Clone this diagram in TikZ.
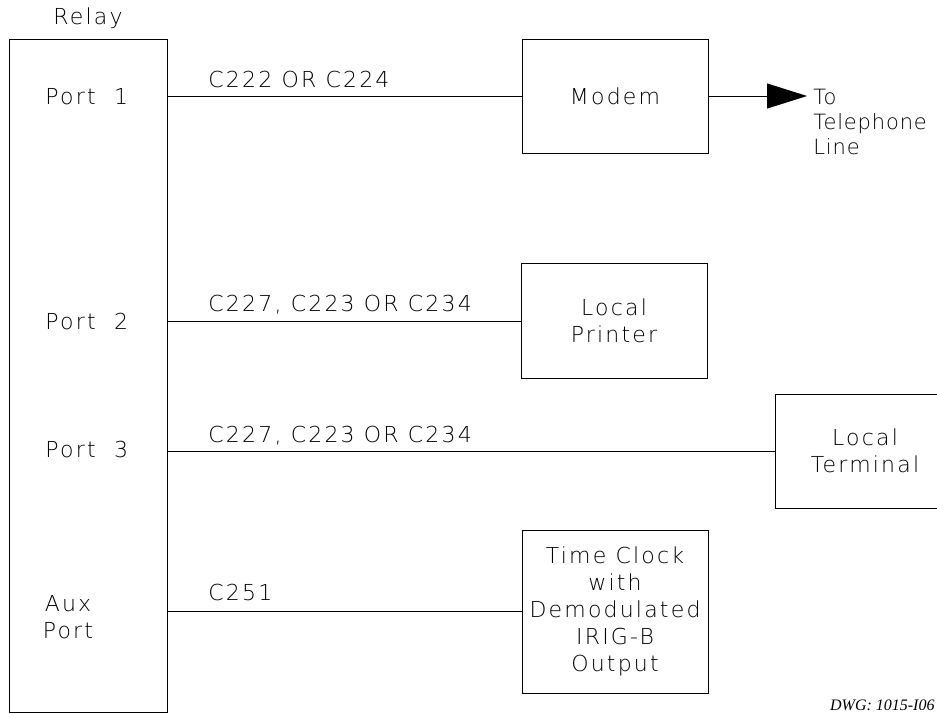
\documentclass[tikz,border=0pt]{standalone}
\usepackage{fontspec}
\setmainfont{Liberation Serif}
\newfontfamily\cad{DejaVu Sans ExtraLight}[LetterSpace=10]
\newfontfamily\cadn{DejaVu Sans ExtraLight}[LetterSpace=4]
\usetikzlibrary{arrows.meta}
\begin{document}
\begin{tikzpicture}[x=1pt,y=-1pt,line width=0.9pt,
  cadtext/.style={font=\cad\fontsize{22}{27}\selectfont},
  box/.style={draw,cadtext,minimum width=186pt,inner sep=0pt,align=center},
  lbl/.style={cadtext,inner sep=0pt},
  wire/.style={line width=0.9pt}]
\useasboundingbox (0,0) rectangle (937,713);
\clip (0,0) rectangle (937,713);
% relay
\node[draw,minimum width=158pt,minimum height=673pt,inner sep=0pt] (relay) at (88,375.5) {};
\node[lbl] (relaylbl) at (88,18) {Relay};
\node[lbl,anchor=west] (port1) at (45,97) {Port~~1};
\node[lbl,anchor=west] (port2) at (45,322) {Port~~2};
\node[lbl,anchor=west] (port3) at (45,450) {Port~~3};
\node[lbl,align=center] (aux) at (68,617) {Aux\\Port};
% devices
\node[box,minimum height=114pt] (modem) at (615,96) {Modem};
\node[box,minimum height=115pt] (printer) at (614,321) {Local\\Printer};
\node[box,minimum width=180pt,minimum height=114pt] (terminal) at (865,451) {Local\\Terminal};
\node[box,minimum height=163pt] (clock) at (615,611.5) {Time Clock\\with\\Demodulated\\IRIG-B\\Output};
% connectors
\draw[wire] (relay.east |- modem.west) -- (modem.west);
\draw[wire] (relay.east |- printer.west) -- (printer.west);
\draw[wire] (relay.east |- terminal.west) -- (terminal.west);
\draw[wire] (relay.east |- clock.west) -- (clock.west);
\coordinate (tel) at (807,96);
\draw[wire,-{Triangle[length=40pt,width=25pt]}] (modem.east) -- (tel);
\node[inner sep=0pt,anchor=west,align=left,font=\cadn\fontsize{21}{25}\selectfont] (tellbl) at (813,122) {To\\Telephone\\Line};
% cable labels
\node[lbl,anchor=base west] (c1) at (208,87) {C222 OR C224};
\node[lbl,anchor=base west] (c2) at (208,311) {C227, C223 OR C234};
\node[lbl,anchor=base west] (c3) at (208,442) {C227, C223 OR C234};
\node[lbl,anchor=base west] (c4) at (208,600) {C251};
% drawing number
\node[font=\itshape\fontsize{16}{16}\selectfont,anchor=base east,inner sep=0pt] (dwg) at (935,710) {DWG: 1015-I06};
\end{tikzpicture}
\end{document}
